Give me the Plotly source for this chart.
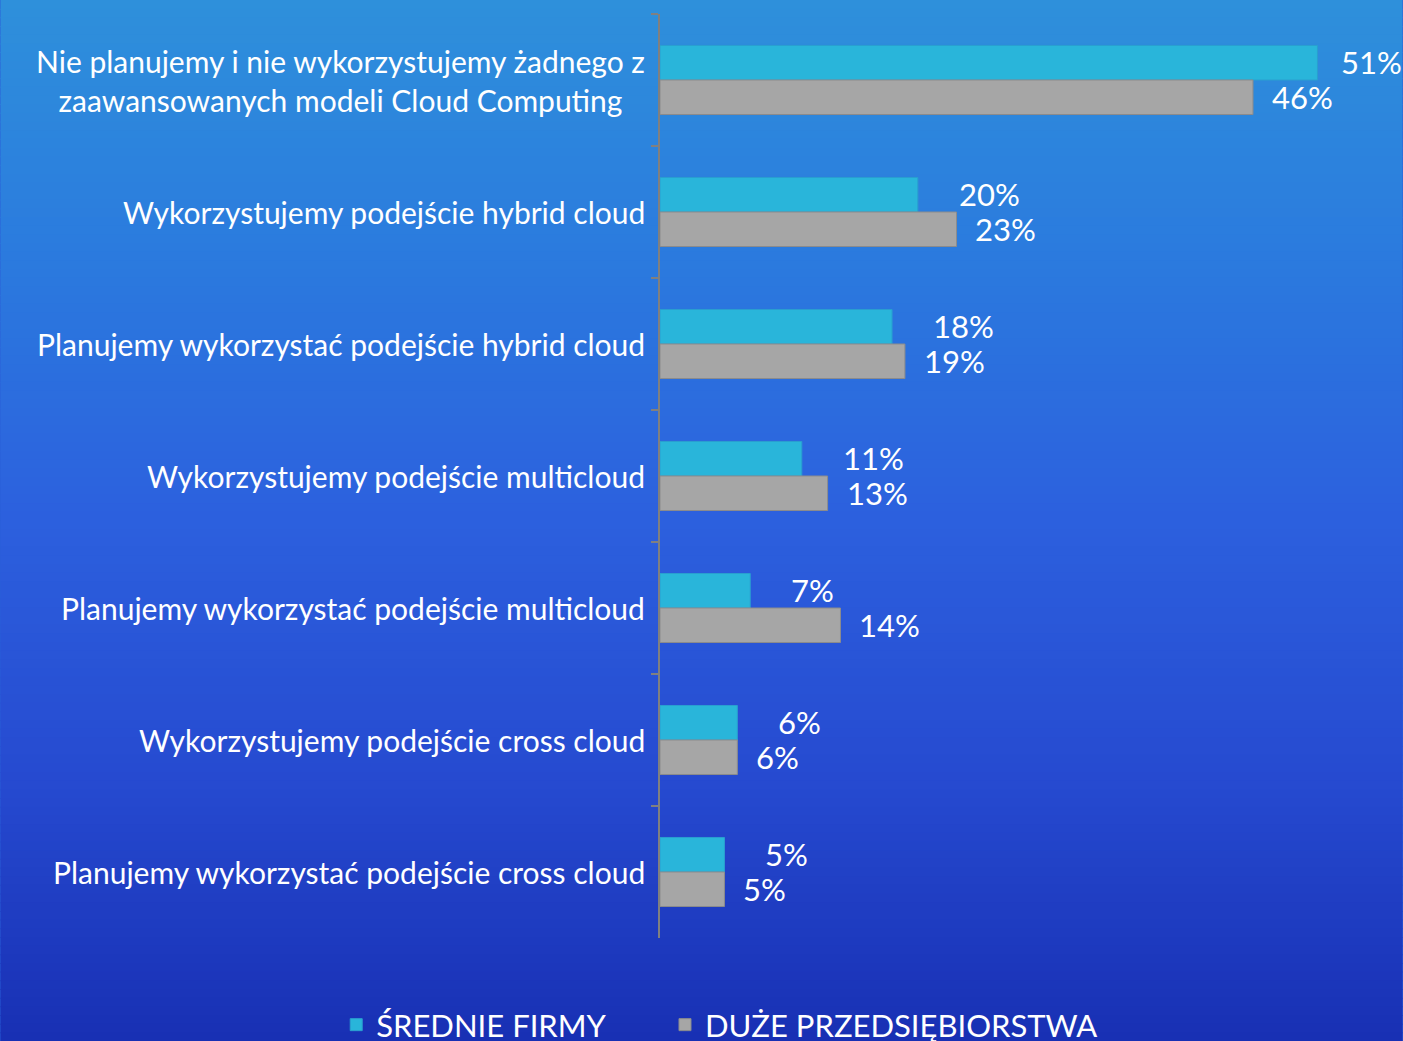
import plotly.graph_objects as go

categories = [
    "Nie planujemy i nie wykorzystujemy żadnego z<br>zaawansowanych modeli Cloud Computing",
    "Wykorzystujemy podejście hybrid cloud",
    "Planujemy wykorzystać podejście hybrid cloud",
    "Wykorzystujemy podejście multicloud",
    "Planujemy wykorzystać podejście multicloud",
    "Wykorzystujemy podejście cross cloud",
    "Planujemy wykorzystać podejście cross cloud",
]
series_names = ["ŚREDNIE FIRMY", "DUŻE PRZEDSIĘBIORSTWA"]
srednie = [51, 20, 18, 11, 7, 6, 5]
duze = [46, 23, 19, 13, 14, 6, 5]

W, H = 1403, 1041
ML, MT, MB = 660, 14, 103
XMAX = 55
SCALE = 12.9
PW = XMAX * SCALE
MR = W - ML - PW
PH = H - MT - MB

FONT = "Lato"
TEAL = "#29B5DA"
GRAY = "#A6A6A6"

def px_x(px):
    return (px - ML) / PW

def px_y(py):
    return 1 - (py - MT) / PH

fig = go.Figure()
fig.add_trace(go.Bar(y=categories, x=srednie, orientation="h", name=series_names[0],
                     legend="legend",
                     marker=dict(color=TEAL, line=dict(color="#2a9fd0", width=1))))
fig.add_trace(go.Bar(y=categories, x=duze, orientation="h", name=series_names[1],
                     legend="legend2",
                     marker=dict(color=GRAY, line=dict(color="#8c8c8c", width=1))))

# gradient background
stops = [(0.0, (46, 144, 219)), (0.25, (43, 122, 222)), (0.5, (44, 96, 222)),
         (0.75, (38, 74, 208)), (1.0, (24, 48, 180))]

def col_at(t):
    for (t0, c0), (t1, c1) in zip(stops[:-1], stops[1:]):
        if t0 <= t <= t1:
            f = (t - t0) / (t1 - t0)
            return "rgb(%d,%d,%d)" % tuple(round(a + (b - a) * f) for a, b in zip(c0, c1))
    return "rgb(%d,%d,%d)" % stops[-1][1]

shapes = []
N = 120
for i in range(N):
    top_px = H * i / N
    bot_px = H * (i + 1) / N + 1
    shapes.append(dict(type="rect", xref="paper", yref="paper",
                       x0=px_x(0), x1=px_x(W), y0=px_y(bot_px), y1=px_y(top_px),
                       fillcolor=col_at((i + 0.5) / N), line=dict(width=0), layer="below"))

annotations = []
# category labels
for c in categories:
    annotations.append(dict(x=0, y=c, xref="paper", yref="y", text=c, showarrow=False,
                            xanchor="right", xshift=-13, align="center",
                            font=dict(family=FONT, size=30, color="white")))
# data labels
for c, v in zip(categories, srednie):
    annotations.append(dict(x=v, y=c, xref="x", yref="y", text=f"{v}%", showarrow=False,
                            xanchor="left", xshift=(22 if v > 48 else 39), yshift=18,
                            font=dict(family=FONT, size=31, color="white")))
for c, v in zip(categories, duze):
    annotations.append(dict(x=v, y=c, xref="x", yref="y", text=f"{v}%", showarrow=False,
                            xanchor="left", xshift=17, yshift=-17,
                            font=dict(family=FONT, size=31, color="white")))

legend_style = dict(orientation="h", xanchor="left", yanchor="middle",
                    font=dict(family=FONT, size=31, color="white"),
                    bgcolor="rgba(0,0,0,0)", itemclick=False, itemdoubleclick=False)

fig.update_layout(
    width=W, height=H,
    margin=dict(l=ML, r=MR, t=MT, b=MB, pad=0, autoexpand=False),
    paper_bgcolor="#2a5fd8",
    plot_bgcolor="rgba(0,0,0,0)",
    barmode="group",
    bargap=0.477,
    bargroupgap=0,
    showlegend=True,
    legend=dict(x=px_x(336), y=px_y(1025), **legend_style),
    legend2=dict(x=px_x(665), y=px_y(1025), **legend_style),
    shapes=shapes,
    annotations=annotations,
    xaxis=dict(range=[0, XMAX], visible=False, showgrid=False, zeroline=False, fixedrange=True),
    yaxis=dict(autorange="reversed", showticklabels=False, showgrid=False, zeroline=False,
               showline=True, linecolor="#808080", linewidth=2,
               ticks="outside", ticklen=7, tickwidth=2, tickcolor="#808080",
               tickson="boundaries", fixedrange=True),
)

fig.write_html("out.html", config={"displayModeBar": False},
               post_script="document.body.style.margin='0';document.body.style.overflow='hidden';")
